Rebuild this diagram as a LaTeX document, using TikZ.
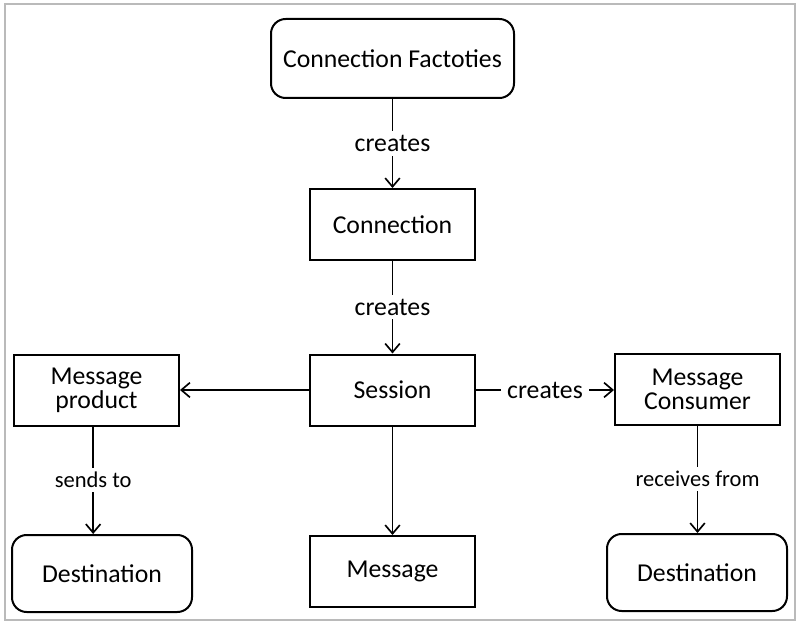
\documentclass[tikz,border=0pt]{standalone}
\usepackage{fontspec}
\setmainfont{Carlito}
\usetikzlibrary{arrows.meta}
\begin{document}
\begin{tikzpicture}[x=0.75pt,y=-0.75pt,
  boxbase/.style={draw, line width=1.5pt, align=center, inner sep=0pt, font=\fontsize{19.3}{18}\selectfont},
  sqbox/.style={boxbase, minimum width=123.75pt, minimum height=53.25pt},
  rbox/.style={boxbase, rounded corners=11pt},
  conn/.style={line width=1.25pt, -{Straight Barb[length=6.5pt,width=11pt,line width=1.25pt]}},
  lbl/.style={fill=white, inner sep=3pt, font=\fontsize{19.3}{20}\selectfont},
  slbl/.style={fill=white, inner sep=3pt, font=\fontsize{16.9}{18}\selectfont}
]
\useasboundingbox (0,0) rectangle (800,624);
\draw[line width=1.5pt, black!27] (4.5,4.5) rectangle (795,620);

\node[rbox, minimum width=182.25pt, minimum height=59.25pt] (cf) at (392.5,58.5) {Connection Factoties};
\node[sqbox] (conn) at (392.5,224.5) {Connection};
\node[sqbox] (sess) at (392.5,390) {Session};
\node[sqbox] (mp) at (96.5,390) {Message\\product};
\node[sqbox] (mc) at (697.5,389) {Message\\Consumer};
\node[rbox, minimum width=135pt, minimum height=57.75pt] (dl) at (102,573.5) {Destination};
\node[sqbox] (msg) at (392.5,571.5) {Message};
\node[rbox, minimum width=135pt, minimum height=57.75pt] (dr) at (697,572.5) {Destination};

\draw[conn] (cf) -- node[lbl] {creates} (conn);
\draw[conn] (conn) -- node[lbl] {creates} (sess);
\draw[conn] (sess) -- (mp);
\draw[conn] (sess.east) -- node[lbl, inner xsep=5pt] {creates} (sess.east -| mc.west);
\draw[conn] (sess) -- (msg);
\draw[conn] ([xshift=-2.5pt]mp.south) -- node[slbl] {sends to} ([xshift=-2.5pt]mp.south |- dl.north);
\draw[conn] (mc.south) -- node[slbl] {receives from} (mc.south |- dr.north);
\end{tikzpicture}
\end{document}
